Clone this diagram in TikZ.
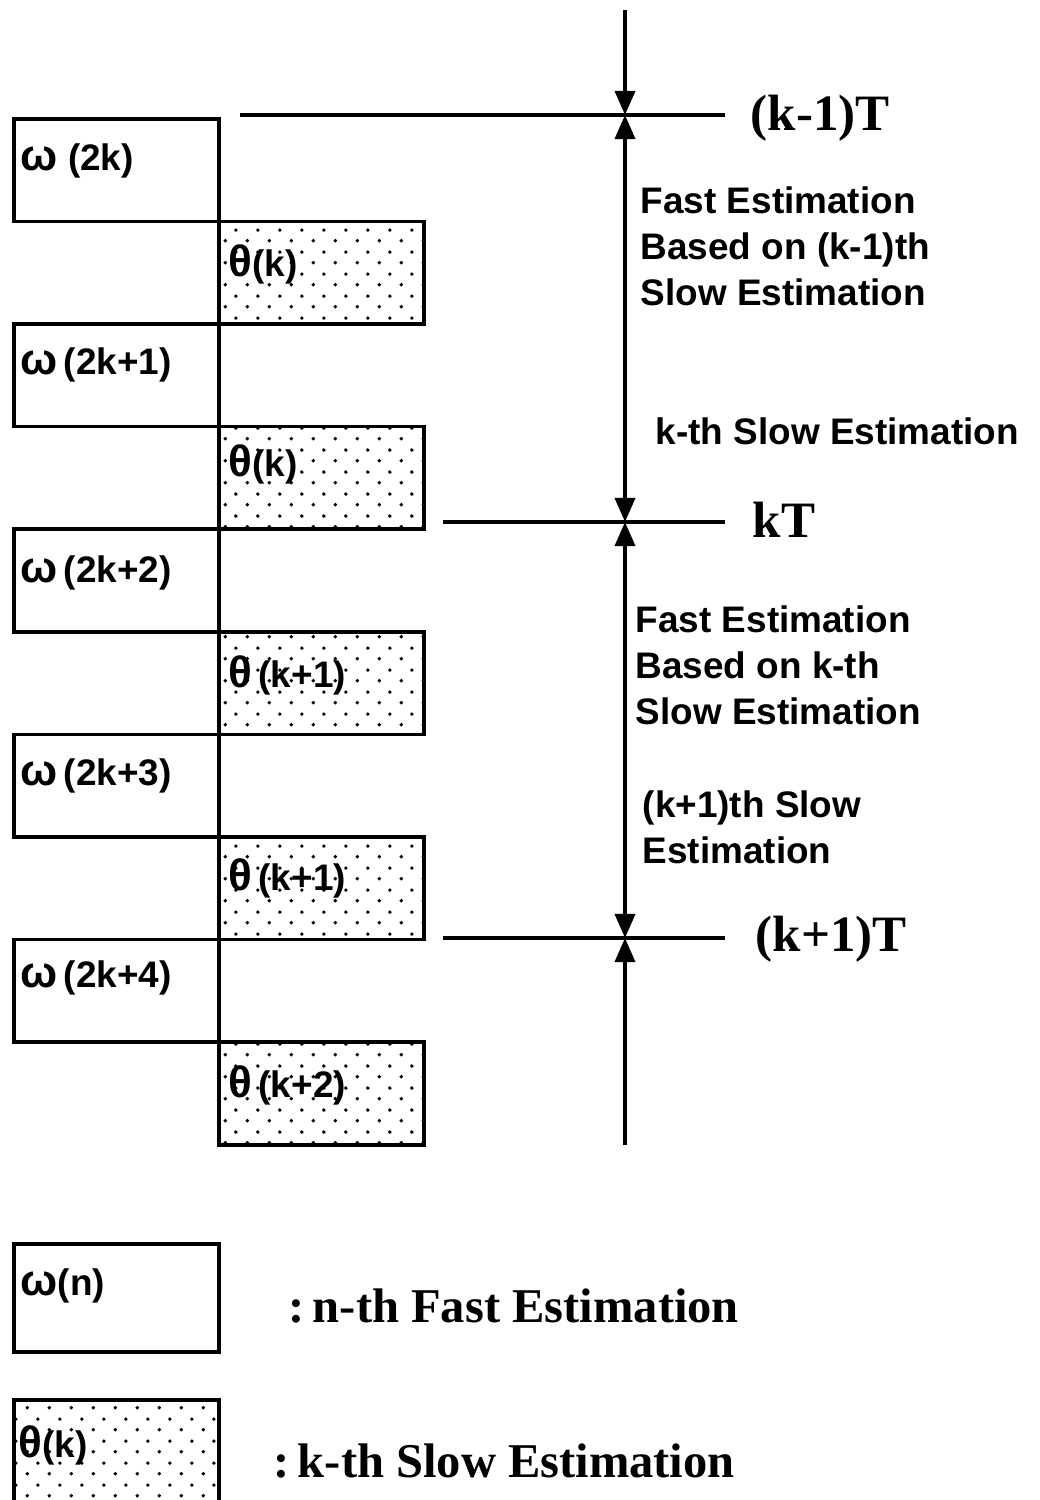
\documentclass[tikz,border=0pt]{standalone}
\usepackage{fontspec}
\setmainfont{Liberation Serif}
\newfontfamily\notefont{Liberation Sans}
\usetikzlibrary{arrows.meta,patterns.meta}

% staggered dot fill for the slow-estimation boxes
\tikzdeclarepattern{
  name=slowdots,
  type=uncolored,
  bounding box={(0,0) and (0.22cm,0.22cm)},
  tile size={(0.22cm,0.22cm)},
  code={
    \fill (0.055cm,0.055cm) circle (0.02cm);
    \fill (0.165cm,0.165cm) circle (0.02cm);
  }
}
% slightly enlarged Greek symbols
\newcommand{\gw}{{\fontsize{12.5}{13}\selectfont ω}}
\newcommand{\gt}{{\fontsize{12.5}{13}\selectfont θ}}

\begin{document}
\begin{tikzpicture}[x=0.01cm,y=-0.01cm,
  fastbox/.style={draw, line width=1pt, minimum width=2.05cm, minimum height=1.026cm,
    inner sep=0pt, anchor=north west},
  slowbox/.style={fastbox, pattern=slowdots, pattern color=black},
  boxlab/.style={font=\notefont\bfseries\fontsize{10.5}{13}\selectfont, inner sep=0pt, anchor=base west},
  note/.style={font=\notefont\bfseries\fontsize{10.5}{13.1}\selectfont, align=left,
    inner sep=0pt, anchor=north west},
  timelab/.style={font=\bfseries\fontsize{14.5}{16}\selectfont, inner sep=0pt, anchor=base west},
  legendlab/.style={font=\bfseries\fontsize{13.8}{16}\selectfont, inner sep=0pt, anchor=base west},
  axis/.style={line width=1pt},
  tick/.style={line width=1pt},
  tip/.tip={Triangle[width=0.2cm,length=0.24cm]}
]
\useasboundingbox[fill=white] (0,0) rectangle (1039,1500);

% estimation boxes
\node[fastbox] (f0) at (12,117) {};
\node[slowbox] (s0) at (217,219.6) {};
\node[fastbox] (f1) at (12,322.2) {};
\node[slowbox] (s1) at (217,424.8) {};
\node[fastbox] (f2) at (12,527.4) {};
\node[slowbox] (s2) at (217,630) {};
\node[fastbox] (f3) at (12,732.6) {};
\node[slowbox] (s3) at (217,835.2) {};
\node[fastbox] (f4) at (12,937.8) {};
\node[slowbox] (s4) at (217,1040.4) {};

\node[boxlab] (lf0) at (20,170) {\gw\ (2k)};
\node[boxlab] (ls0) at (228,277) {\gt(k)};
\node[boxlab] (lf1) at (20,374) {\gw\,(2k+1)};
\node[boxlab] (ls1) at (228,476) {\gt(k)};
\node[boxlab] (lf2) at (20,582) {\gw\,(2k+2)};
\node[boxlab] (ls2) at (228,687) {\gt\,(k+1)};
\node[boxlab] (lf3) at (20,785) {\gw\,(2k+3)};
\node[boxlab] (ls3) at (228,890) {\gt\,(k+1)};
\node[boxlab] (lf4) at (20,987) {\gw\,(2k+4)};
\node[boxlab] (ls4) at (228,1097) {\gt\,(k+2)};

% time axis
\coordinate (top) at (625,10);
\coordinate (t0) at (625,115);
\coordinate (t1) at (625,522);
\coordinate (t2) at (625,938);
\coordinate (bot) at (625,1145);
\draw[axis,-{tip}] (top) -- (t0);
\draw[axis,{tip}-{tip}] (t0) -- (t1);
\draw[axis,{tip}-{tip}] (t1) -- (t2);
\draw[axis,{tip}-] (t2) -- (bot);

% sampling instants
\coordinate (a0) at (240,115);
\coordinate (b0) at (725,115);
\coordinate (a1) at (443,522);
\coordinate (b1) at (725,522);
\coordinate (a2) at (443,938);
\coordinate (b2) at (725,938);
\draw[tick] (a0) -- (b0);
\draw[tick] (a1) -- (b1);
\draw[tick] (a2) -- (b2);
\node[timelab] (T0) at (750,130) {(k-1)T};
\node[timelab] (T1) at (752,537) {kT};
\node[timelab] (T2) at (755,951) {(k+1)T};

% interval notes
\node[note] (n0) at (640,186) {Fast Estimation\\Based on (k-1)th\\Slow Estimation};
\node[note] (n1) at (655,417) {k-th Slow Estimation};
\node[note] (n2) at (635,605) {Fast Estimation\\Based on k-th\\Slow Estimation};
\node[note] (n3) at (642,790) {(k+1)th Slow\\Estimation};

% legend
\node[fastbox, minimum height=1.08cm] (kf) at (12,1242) {};
\node[slowbox, minimum height=1.02cm] (ks) at (12,1398) {};
\node[boxlab] (lkf) at (20,1295) {\gw(n)};
\node[boxlab] (lks) at (18,1457) {\gt(k)};
\node[legendlab] (tkf) at (288,1322) {:\,n-th Fast Estimation};
\node[legendlab] (tks) at (273,1477) {:\,k-th Slow Estimation};
\end{tikzpicture}
\end{document}
